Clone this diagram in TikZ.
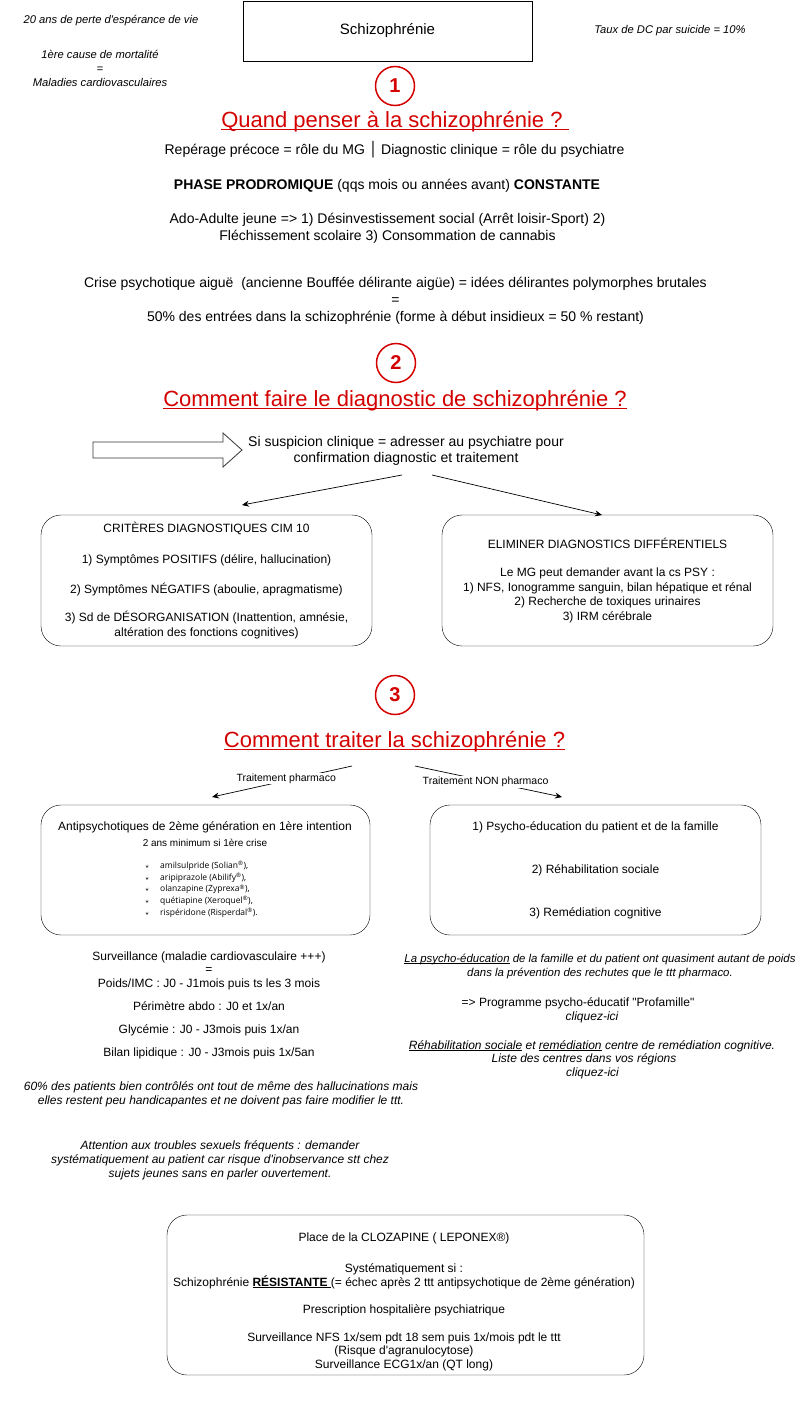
\documentclass[tikz,border=0pt]{standalone}
\usepackage{fontspec}
\setmainfont{Liberation Sans}
\newfontfamily\symfont{DejaVu Sans}
\newfontfamily\listfont{Open Sans}
\usetikzlibrary{arrows.meta,positioning,calc}
\definecolor{alert}{HTML}{D40000}

\newcommand\fbody{\fontsize{14}{17}\selectfont}
\newcommand\fboxed{\fontsize{12}{14.5}\selectfont}
\newcommand\fhead{\fontsize{22}{26}\selectfont}
\newcommand\fside{\fontsize{11.2}{14}\selectfont}
\newcommand\flabel{\fontsize{10.5}{12}\selectfont}
\newcommand\fnum{\fontsize{20}{22}\selectfont}
% underline sitting just under the baseline
\newsavebox\ulbox
\newcommand\under[2][1pt]{\sbox\ulbox{#2}\rlap{\rule[-0.12em]{\wd\ulbox}{#1}}\usebox\ulbox}

\begin{document}
\begin{tikzpicture}[x=1pt, y=-1pt,
  txt/.style={align=center, inner sep=0pt},
  body/.style={txt, font=\fbody},
  headline/.style={txt, text=alert, font=\fhead},
  num/.style={circle, draw=alert, line width=1.5pt, minimum size=39pt, inner sep=0pt, text=alert, font=\fnum\bfseries},
  rbox/.style={draw, rounded corners=20pt, align=center, font=\fboxed},
  note/.style={txt, font=\fboxed\itshape},
  side/.style={txt, font=\fside\itshape},
  arr/.style={-{Stealth[length=7pt,width=6pt]}, line width=0.7pt},
  lbl/.style={fill=white, inner sep=1pt, font=\flabel}
]
  \fill[white] (0,0) rectangle (805,1418);
  \useasboundingbox (0,0) rectangle (805,1418);

  % header
  \node[draw, minimum width=289pt, minimum height=60pt, font=\fontsize{15}{18}\selectfont] (top) at (387.5,31) {Schizophrénie};
  \node[side] (esper) at (111,21) {20 ans de perte d\textquotesingle espérance de vie};
  \node[side] (mort) at (100,68) {1ère cause de mortalité\\=\\Maladies cardiovasculaires};
  \node[side] (suic) at (670,31) {Taux de DC par suicide = 10\%};

  % 1
  \node[num] (n1) at (395,86) {1};
  \node[headline] (q1) at (395,122) {\under[1.6pt]{Quand penser à la schizophrénie ?\ }};
  \node[body] (rep) at (394.5,150) {Repérage précoce = rôle du MG {\symfont│} Diagnostic clinique = rôle du psychiatre};
  \node[body] (prod) at (387,186) {\textbf{PHASE PRODROMIQUE} (qqs mois ou années avant) \textbf{CONSTANTE}};
  \node[body] (ado) at (387.5,228) {Ado-Adulte jeune => 1) Désinvestissement social (Arrêt loisir-Sport) 2)\\Fléchissement scolaire 3) Consommation de cannabis};
  \node[body] (crise) at (395.5,300.5) {Crise psychotique aiguë\ \ (ancienne Bouffée délirante aigüe) = idées délirantes polymorphes brutales\\=\\50\% des entrées dans la schizophrénie (forme à début insidieux = 50 \% restant)};

  % 2
  \node[num] (n2) at (396,363) {2};
  \node[headline] (q2) at (395,401) {\under[1.6pt]{Comment faire le diagnostic de schizophrénie ?}};
  \draw[black!80, line width=0.8pt] (93,442) -- (223,442) -- (223,433) -- (242,450) -- (223,467) -- (223,458) -- (93,458) -- cycle;
  \node[body, font=\fontsize{14}{16}\selectfont] (susp) at (406,451) {Si suspicion clinique = adresser au psychiatre pour\\confirmation diagnostic et traitement};
  \coordinate (s2l) at (402,475);
  \coordinate (s2r) at (432,475);
  \coordinate (critin) at (242,505);
  \coordinate (diffin) at (602,515);
  \draw[arr] (s2l) -- (critin);
  \draw[arr] (s2r) -- (diffin);

  \node[rbox, minimum width=331pt, minimum height=131pt] (crit) at (206.5,580.5) {CRITÈRES DIAGNOSTIQUES CIM 10\\[16.5pt]1) Symptômes POSITIFS (délire, hallucination)\\[15.5pt]2) Symptômes NÉGATIFS (aboulie, apragmatisme)\\[13.5pt]3) Sd de DÉSORGANISATION (Inattention, amnésie,\\altération des fonctions cognitives)};
  \node[rbox, minimum width=331pt, minimum height=131pt] (diff) at (607.5,580.5) {ELIMINER DIAGNOSTICS DIFFÉRENTIELS\\[13.5pt]Le MG peut demander avant la cs PSY :\\1) NFS, Ionogramme sanguin, bilan hépatique et rénal\\2) Recherche de toxiques urinaires\\3) IRM cérébrale};

  % 3
  \node[num] (n3) at (395,695) {3};
  \node[headline] (q3) at (394.5,742) {\under[1.6pt]{Comment traiter la schizophrénie ?}};
  \coordinate (p3l) at (352,766);
  \coordinate (p3r) at (415,766);
  \coordinate (pharin) at (212,797);
  \coordinate (nonin) at (562,797);
  \draw[arr] (p3l) -- node[lbl, pos=0.47, yshift=2pt] (lph) {Traitement pharmaco} (pharin);
  \draw[arr] (p3r) -- node[lbl, pos=0.48, yshift=-1pt] (lnon) {Traitement NON pharmaco} (nonin);

  \node[rbox, minimum width=329pt, minimum height=130pt] (anti) at (205.5,870) {};
  \node[txt, font=\fboxed] (antit) at (205,827) {Antipsychotiques de 2ème génération en 1ère intention};
  \node[txt, font=\fontsize{10}{12}\selectfont] (antis) at (205,843) {2 ans minimum si 1ère crise};
  \foreach \mol [count=\i] in {{amilsulpride (Solian\textsuperscript{®}),}, {aripiprazole (Abilify\textsuperscript{®}),}, {olanzapine (Zyprexa\textsuperscript{®}),}, {quétiapine (Xeroquel\textsuperscript{®}),}, {rispéridone (Risperdal\textsuperscript{®}).}}
    \node[anchor=west, inner sep=0pt, font=\listfont\fontsize{8.5}{10}\selectfont] (mol\i) at (145,854+11.8*\i) {\makebox[15pt][l]{\fontsize{7}{8}\selectfont$\star$}\mol};

  \node[rbox, minimum width=331pt, minimum height=130pt] (nonph) at (595.5,870) {1) Psycho-éducation du patient et de la famille\\[28.5pt]2) Réhabilitation sociale\\[28.5pt]3) Remédiation cognitive};

  \node[txt, font=\fontsize{12}{13.5}\selectfont] (surv) at (209,1005.5) {Surveillance (maladie cardiovasculaire +++)\\=\\Poids/IMC : J0 - J1mois puis ts les 3 mois\\[10pt]Périmètre abdo : J0 et 1x/an\\[9.5pt]Glycémie : J0 - J3mois puis 1x/an\\[9.5pt]Bilan lipidique : J0 - J3mois puis 1x/5an};
  \node[note, font=\fontsize{12}{14}\selectfont\itshape] (hallu) at (221,1094) {60\% des patients bien contrôlés ont tout de même des hallucinations mais\\elles restent peu handicapantes et ne doivent pas faire modifier le ttt.};
  \node[note, font=\fontsize{12}{14}\selectfont\itshape] (sexu) at (220,1160) {Attention aux troubles sexuels fréquents : demander\\systématiquement au patient car risque d\textquotesingle inobservance stt chez\\sujets jeunes sans en parler ouvertement.};

  \node[note, font=\fontsize{11.4}{13.5}\selectfont\itshape] (psyed) at (600,966.5) {\under{La psycho-éducation} de la famille et du patient ont quasiment autant de poids\\dans la prévention des rechutes que le ttt pharmaco.};
  \node[txt, font=\fboxed] (profa) at (578,1003) {=> Programme psycho-éducatif \textquotedbl Profamille\textquotedbl};
  \node[note] (clic1) at (592,1017) {cliquez-ici};
  \node[note] (rehab) at (592,1046) {\under{Réhabilitation sociale} et \under{remédiation} centre de remédiation cognitive.};
  \node[note] (liste) at (584,1059) {Liste des centres dans vos régions};
  \node[note] (clic2) at (592.5,1073) {cliquez-ici};

  % clozapine
  \node[rbox, minimum width=477pt, minimum height=160pt] (cloz) at (405.5,1295) {};
  \node[txt, font=\fontsize{12}{13.5}\selectfont] (clozt) at (404,1302) {Place de la CLOZAPINE ( LEPONEX®)\\[17.5pt]Systématiquement si :\\Schizophrénie \under{\textbf{RÉSISTANTE}\ }(= échec après 2 ttt antipsychotique de 2ème génération)\\[13.5pt]Prescription hospitalière psychiatrique\\[14.5pt]Surveillance NFS 1x/sem pdt 18 sem puis 1x/mois pdt le ttt\\(Risque d\textquotesingle agranulocytose)\\Surveillance ECG1x/an (QT long)};
\end{tikzpicture}
\end{document}
